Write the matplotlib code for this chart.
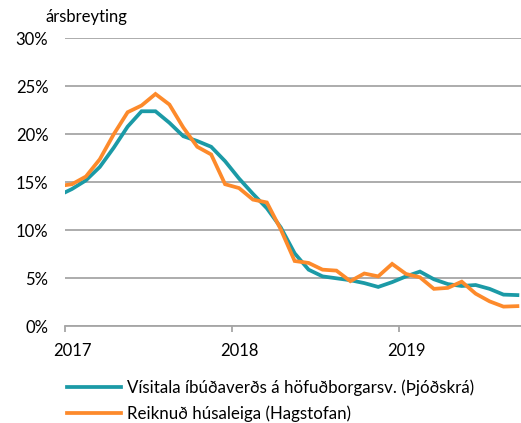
import matplotlib
matplotlib.use("Agg")
import matplotlib.pyplot as plt
import numpy as np

plt.rcParams['font.family'] = ['Lato', 'DejaVu Sans']

# month index, Jan 2017 = 0 (first point Dec 2016 sits just left of the axis)
months = np.arange(-1, 33)

# year-on-year change, %
visitala = [13.6,
            14.3, 15.2, 16.6, 18.6, 20.8, 22.4, 22.4, 21.2, 19.8, 19.3, 18.7, 17.2,
            15.4, 13.8, 12.3, 10.3, 7.6, 5.9, 5.2, 5.0, 4.8, 4.5, 4.1, 4.6,
            5.2, 5.7, 4.9, 4.4, 4.2, 4.3, 3.9, 3.3, 3.25]
husaleiga = [14.6,
             14.8, 15.6, 17.4, 20.0, 22.3, 23.0, 24.2, 23.1, 20.7, 18.7, 17.9, 14.8,
             14.4, 13.2, 12.9, 10.1, 6.8, 6.6, 5.9, 5.8, 4.7, 5.5, 5.2, 6.5,
             5.45, 5.1, 3.9, 4.0, 4.65, 3.4, 2.6, 2.05, 2.1]

series_names = ["Vísitala íbúðaverðs á höfuðborgarsv. (Þjóðskrá)",
                "Reiknuð húsaleiga (Hagstofan)"]
year_labels = ["2017", "2018", "2019"]
year_pos = [0, 12, 24]
y_ticks = [0, 5, 10, 15, 20, 25, 30]

teal = "#1B9AA6"
orange = "#FD8A2B"
grid_c = "#A6A6A6"

fig = plt.figure(figsize=(5.21, 4.23), dpi=100)
ax = fig.add_axes([65 / 521, 1 - 326.3 / 423, 456 / 521, 288 / 423])

l1, = ax.plot(months, visitala, color=teal, lw=2.7, solid_joinstyle="miter", zorder=3)
l2, = ax.plot(months, husaleiga, color=orange, lw=2.7, solid_joinstyle="miter", zorder=4)

ax.set_xlim(-0.5, -0.5 + 456 / 13.92)
ax.set_ylim(0, 30)

ax.set_yticks(y_ticks)
ax.set_yticklabels([f"{v}%" for v in y_ticks], fontsize=12)
ax.tick_params(axis="y", length=0, pad=12)
ax.yaxis.grid(True, color=grid_c, lw=1.3)
ax.set_axisbelow(True)

# ticks between years, labels under January
ax.set_xticks([-0.5, 11.5, 23.5])
ax.set_xticklabels([])
ax.tick_params(axis="x", which="major", length=4, color=grid_c, width=1.3)
ax.set_xticks(year_pos, minor=True)
ax.set_xticklabels(year_labels, minor=True, fontsize=12)
ax.tick_params(axis="x", which="minor", length=0, pad=12)

for s in ["top", "right", "left"]:
    ax.spines[s].set_visible(False)
ax.spines["bottom"].set_color(grid_c)
ax.spines["bottom"].set_linewidth(1.3)

fig.text(46 / 521, 1 - 17 / 423, "ársbreyting", fontsize=12, va="center", ha="left")

fig.legend([l1, l2], series_names, loc="upper left",
           bbox_to_anchor=(60 / 521, 1 - 373 / 423), frameon=False,
           fontsize=12.2, handlelength=3.2, handletextpad=0.35, labelspacing=0.55,
           borderaxespad=0)

fig.savefig("out.png", dpi=100)
